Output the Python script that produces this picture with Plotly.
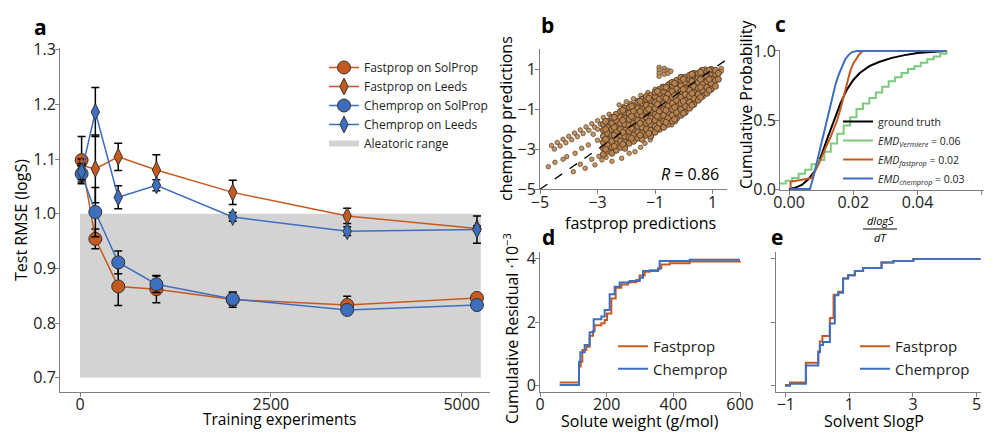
import plotly.graph_objects as go

# ---------------- data ----------------
# panel a
train_n = [20, 200, 500, 1000, 2000, 3500, 5200]
fast_sol = [1.098, 0.954, 0.867, 0.862, 0.843, 0.833, 0.846]
fast_sol_err = [0.043, 0.018, 0.035, 0.025, 0.014, 0.016, 0.005]
fast_leeds = [1.088, 1.082, 1.104, 1.080, 1.039, 0.996, 0.973]
fast_leeds_err = [0.012, 0.062, 0.025, 0.028, 0.022, 0.014, 0.005]
chem_sol = [1.073, 1.003, 0.911, 0.871, 0.844, 0.824, 0.833]
chem_sol_err = [0.015, 0.045, 0.021, 0.015, 0.011, 0.008, 0.005]
chem_leeds = [1.077, 1.186, 1.030, 1.052, 0.994, 0.968, 0.971]
chem_leeds_err = [0.015, 0.045, 0.021, 0.010, 0.008, 0.008, 0.025]
aleatoric_x = [0, 5250]
aleatoric_y = [0.7, 1.0]
a_xticks = [0, 2500, 5000]
a_yticks = [0.7, 0.8, 0.9, 1.0, 1.1, 1.2, 1.3]

# panel b: dense core read column by column (fastprop value -> chemprop values)
b_core_x = [-2.8, -2.65, -2.5, -2.35, -2.2, -2.05, -1.9, -1.75, -1.6, -1.45, -1.3, -1.15,
            -1.0, -0.85, -0.7, -0.55, -0.4, -0.25, -0.1, 0.05, 0.2, 0.35, 0.5, 0.65, 0.8,
            0.95, 1.1, 1.2]
b_core_y = [
    [-3.25, -2.95, -2.65, -2.35, -2.05, -1.75],
    [-3.1, -2.8, -2.5, -2.2, -1.9, -1.6],
    [-3.2, -2.9, -2.6, -2.3, -2.0, -1.7, -1.4],
    [-3.05, -2.75, -2.45, -2.15, -1.85, -1.55, -1.25],
    [-2.9, -2.6, -2.3, -2.0, -1.7, -1.4, -1.1],
    [-2.95, -2.65, -2.35, -2.05, -1.75, -1.45, -1.15, -0.95],
    [-2.7, -2.4, -2.1, -1.8, -1.5, -1.2, -0.9],
    [-2.6, -2.3, -2.0, -1.7, -1.4, -1.1, -0.8],
    [-2.45, -2.15, -1.85, -1.55, -1.25, -0.95, -0.65],
    [-2.5, -2.2, -1.9, -1.6, -1.3, -1.0, -0.7, -0.5],
    [-2.3, -2.0, -1.7, -1.4, -1.1, -0.8, -0.5, -0.35],
    [-2.35, -2.05, -1.75, -1.45, -1.15, -0.85, -0.55, -0.3],
    [-2.15, -1.85, -1.55, -1.25, -0.95, -0.65, -0.35, -0.15],
    [-2.0, -1.7, -1.4, -1.1, -0.8, -0.5, -0.2, 0.0],
    [-1.9, -1.6, -1.3, -1.0, -0.7, -0.4, -0.1, 0.1],
    [-1.75, -1.45, -1.15, -0.85, -0.55, -0.25, 0.05, 0.2],
    [-1.6, -1.3, -1.0, -0.7, -0.4, -0.1, 0.2, 0.35],
    [-1.45, -1.15, -0.85, -0.55, -0.25, 0.05, 0.3, 0.45],
    [-1.3, -1.0, -0.7, -0.4, -0.1, 0.2, 0.45, 0.6],
    [-1.15, -0.85, -0.55, -0.25, 0.05, 0.35, 0.6],
    [-0.95, -0.65, -0.35, -0.05, 0.25, 0.5, 0.7],
    [-0.75, -0.45, -0.15, 0.15, 0.45, 0.7, 0.8],
    [-0.55, -0.25, 0.05, 0.35, 0.6, 0.8],
    [-0.35, -0.05, 0.25, 0.55, 0.8, 0.95],
    [-0.2, 0.1, 0.4, 0.65, 0.9],
    [0.0, 0.3, 0.55, 0.8, 1.0],
    [0.15, 0.45, 0.75, 0.95],
    [0.5, 0.8],
]
# second, offset set of core points (fills the gaps of the first set)
b_core2_x = [-2.72, -2.42, -2.12, -1.82, -1.52, -1.22, -0.92, -0.62, -0.32, -0.02, 0.28, 0.58, 0.88]
b_core2_y = [
    [-3.0, -2.5, -2.0, -1.6],
    [-2.85, -2.3, -1.9, -1.4],
    [-2.75, -2.15, -1.55, -1.05],
    [-2.45, -1.95, -1.35, -0.85],
    [-2.3, -1.7, -1.1, -0.6],
    [-2.2, -1.6, -1.0, -0.45],
    [-1.95, -1.35, -0.75, -0.1],
    [-1.65, -1.05, -0.45, 0.1],
    [-1.5, -0.9, -0.3, 0.3],
    [-1.2, -0.6, 0.0, 0.5],
    [-0.8, -0.2, 0.4, 0.75],
    [-0.4, 0.1, 0.5, 0.85],
    [-0.05, 0.5, 0.95],
]
# streaks and sparse points
b_extra_x = [-4.6, -4.4, -4.2, -4.0, -3.8, -3.6, -3.4, -3.2, -3.0, -2.8, -2.6,
             -4.5, -4.3, -4.1, -3.9, -3.7, -3.5, -3.3, -3.1, -2.9,
             -2.25, -2.0, -1.75, -1.5, -1.25, -1.0, -0.75, -0.5, -0.25, 0.0, 0.25,
             -2.1, -1.85, -1.6, -1.35,
             -0.86, -0.86, -0.86, -0.86, -0.68, -0.68, -0.68, -0.55, -0.55, -0.45, 0.6, 0.75, 1.3, 1.3,
             -4.71, -4.48, -4.07, -3.78, -3.84, -3.43, -3.09, -2.85, -3.32, -3.55, -2.5, -2.16,
             -1.7, -1.35, -1.17, -0.42, -0.3, -2.95, -3.2, -2.7, -1.9, -1.5, -3.6, -4.2,
             -3.0, -3.15, -3.0]
b_extra_y = [-2.81, -2.66, -2.5, -2.35, -2.19, -2.03, -1.88, -1.72, -1.57, -1.41, -1.25,
             -2.99, -2.83, -2.67, -2.52, -2.36, -2.21, -2.05, -1.89, -1.74,
             -0.78, -0.62, -0.47, -0.31, -0.16, 0.0, 0.15, 0.31, 0.47, 0.62, 0.78,
             -0.85, -0.7, -0.55, -0.4,
             1.1, 0.95, 0.8, 0.65, 1.05, 0.9, 0.75, 0.95, 0.8, 0.9, 0.97, 1.02, 1.05, 0.9,
             -3.87, -3.65, -3.37, -3.2, -4.12, -3.95, -3.78, -3.53, -2.78, -2.95, -3.6, -3.45,
             -3.12, -2.7, -2.53, -1.78, -1.62, -3.35, -3.5, -3.4, -3.2, -2.9, -3.75, -3.5,
             -2.55, -2.25, -2.0]
r_value = 0.86
b_ticks = [-5, -3, -1, 1]

# panel c: cumulative distributions of dlogS/dT
gt_x = [0.0, 0.002, 0.004, 0.006, 0.008, 0.010, 0.012, 0.014, 0.016, 0.018, 0.020, 0.022,
        0.025, 0.028, 0.032, 0.036, 0.040, 0.044, 0.049]
gt_y = [0.0, 0.01, 0.03, 0.07, 0.13, 0.24, 0.37, 0.50, 0.62, 0.72, 0.79, 0.84,
        0.89, 0.92, 0.95, 0.97, 0.985, 0.993, 1.0]
verm_x = [-0.003, -0.001, 0.001, 0.003, 0.005, 0.007, 0.009, 0.011, 0.013, 0.015, 0.017,
          0.019, 0.021, 0.023, 0.025, 0.027, 0.029, 0.031, 0.033, 0.035, 0.037, 0.039,
          0.041, 0.043, 0.045, 0.047, 0.049]
verm_y = [0.04, 0.06, 0.08, 0.11, 0.14, 0.18, 0.21, 0.27, 0.33, 0.40, 0.46,
          0.52, 0.58, 0.62, 0.66, 0.70, 0.74, 0.78, 0.81, 0.84, 0.87, 0.89,
          0.915, 0.94, 0.96, 0.98, 1.0]
fpc_x = [0.0005, 0.0005, 0.007, 0.008, 0.009, 0.010, 0.011, 0.012, 0.013, 0.014, 0.015, 0.016,
         0.017, 0.018, 0.019, 0.020, 0.021, 0.022, 0.023, 0.049]
fpc_y = [0.0, 0.053, 0.08, 0.12, 0.17, 0.22, 0.28, 0.33, 0.38, 0.44, 0.50, 0.58,
         0.67, 0.76, 0.85, 0.91, 0.95, 0.98, 1.0, 1.0]
cpc_x = [0.0005, 0.0065, 0.0075, 0.0085, 0.0095, 0.0105, 0.0115, 0.0125, 0.0135, 0.0145,
         0.0155, 0.0165, 0.0175, 0.0185, 0.0195, 0.021, 0.049]
cpc_y = [0.0, 0.0, 0.08, 0.18, 0.28, 0.38, 0.48, 0.58, 0.68, 0.76,
         0.83, 0.89, 0.94, 0.97, 0.99, 1.0, 1.0]
emd_labels = ["ground truth",
              "<i>EMD<sub>Vermiere</sub></i> = 0.06",
              "<i>EMD<sub>fastprop</sub></i> = 0.02",
              "<i>EMD<sub>chemprop</sub></i> = 0.03"]
c_xticks = [0, 0.02, 0.04, 0.06]
c_yticks = [0, 0.5, 1.0]

# panel d: cumulative residual vs solute weight
d_fast_x = [59, 114, 117, 122, 127, 139, 149, 159, 164, 184, 194, 201, 214, 227, 244, 264,
            289, 299, 314, 329, 354, 364, 389, 449, 600]
d_fast_y = [0.10, 0.10, 0.60, 0.75, 1.12, 1.22, 1.57, 1.72, 1.90, 1.96, 2.06, 2.27, 2.74,
            3.08, 3.18, 3.25, 3.32, 3.46, 3.58, 3.63, 3.69, 3.81, 3.85, 3.90, 3.92]
d_chem_x = [59, 114, 117, 121, 134, 149, 161, 184, 194, 209, 224, 239, 269, 299, 309, 354,
            359, 449, 600]
d_chem_y = [0.02, 0.02, 0.75, 1.05, 1.28, 1.68, 2.09, 2.17, 2.38, 2.87, 3.11, 3.24, 3.29,
            3.39, 3.60, 3.66, 3.92, 3.96, 3.96]
d_xticks = [0, 200, 400, 600]
de_yticks = [0, 2, 4]

# panel e: cumulative residual vs solvent SlogP
e_fast_x = [-1.03, -0.87, -0.37, 0.02, 0.07, 0.15, 0.385, 0.50, 0.65, 0.80, 0.96, 1.17,
            1.43, 2.01, 2.38, 3.01, 5.1]
e_fast_y = [0.02, 0.10, 0.72, 1.07, 1.39, 1.56, 2.13, 2.86, 2.95, 3.37, 3.47, 3.60,
            3.70, 3.87, 3.92, 3.98, 4.0]
e_chem_x = [-1.03, -0.87, -0.37, 0.02, 0.07, 0.17, 0.385, 0.54, 0.65, 0.80, 0.96, 1.17,
            1.43, 2.01, 2.38, 3.01, 5.1]
e_chem_y = [0.0, 0.06, 0.63, 1.05, 1.28, 1.37, 1.95, 2.84, 2.92, 3.37, 3.47, 3.60,
            3.70, 3.87, 3.92, 3.98, 4.0]
e_xticks = [-1, 1, 3, 5]

# ---------------- style ----------------
FONT = "Open Sans"
ORANGE = "#C65A1E"
BLUE = "#3D6FBE"
GREEN = "#7CCB7C"
AX = "#7f7f7f"
W, H = 997, 432


def px(x):
    return x / W


def py(y):
    return 1 - y / H


fig = go.Figure()

# ---- panel a ----
fig.add_trace(go.Scatter(
    x=[aleatoric_x[0], aleatoric_x[1], aleatoric_x[1], aleatoric_x[0], aleatoric_x[0]],
    y=[aleatoric_y[0], aleatoric_y[0], aleatoric_y[1], aleatoric_y[1], aleatoric_y[0]],
    fill="toself", mode="none", fillcolor="#D3D3D3", name="Aleatoric range",
    xaxis="x", yaxis="y", legend="legend", legendrank=5))

series_a = [
    ("Fastprop on SolProp", fast_sol, fast_sol_err, ORANGE, "circle", 13),
    ("Fastprop on Leeds", fast_leeds, fast_leeds_err, ORANGE, "diamond-tall", 12),
    ("Chemprop on SolProp", chem_sol, chem_sol_err, BLUE, "circle", 13),
    ("Chemprop on Leeds", chem_leeds, chem_leeds_err, BLUE, "diamond-tall", 12),
]
for i, (name, vals, errs, col, sym, sz) in enumerate(series_a):
    fig.add_trace(go.Scatter(
        x=train_n, y=vals, name=name, mode="lines+markers",
        line=dict(color=col, width=1.5),
        marker=dict(color=col, symbol=sym, size=sz, line=dict(color="#333333", width=1)),
        error_y=dict(type="data", array=errs, color="black", thickness=1.5, width=4),
        xaxis="x", yaxis="y", legend="legend", legendrank=i + 1))

# ---- panel b ----
cx_all, cy_all = [], []
for cols_x, cols_y in ((b_core_x, b_core_y), (b_core2_x, b_core2_y)):
    for cx, ys in zip(cols_x, cols_y):
        for yv in ys:
            cx_all.append(cx)
            cy_all.append(yv)
fig.add_trace(go.Scatter(
    x=b_extra_x, y=b_extra_y, mode="markers", showlegend=False,
    marker=dict(size=4.5, color="rgba(200,150,95,1)",
                line=dict(color="rgba(95,75,55,1)", width=0.8)),
    xaxis="x2", yaxis="y2"))
fig.add_trace(go.Scatter(
    x=cx_all, y=cy_all, mode="markers", showlegend=False,
    marker=dict(size=6, color="rgba(185,130,78,1)",
                line=dict(color="rgba(80,60,40,1)", width=0.9)),
    xaxis="x2", yaxis="y2"))
fig.add_trace(go.Scatter(
    x=[-5, 1.5], y=[-5, 1.5], mode="lines", line=dict(color="black", width=1.3, dash="dash"),
    showlegend=False, xaxis="x2", yaxis="y2"))

# ---- panel c ----
fig.add_trace(go.Scatter(x=gt_x, y=gt_y, mode="lines", line=dict(color="black", width=2),
                         name=emd_labels[0], xaxis="x3", yaxis="y3", legend="legend2"))
fig.add_trace(go.Scatter(x=verm_x, y=verm_y, mode="lines", line=dict(color=GREEN, width=2, shape="hv"),
                         name=emd_labels[1], xaxis="x3", yaxis="y3", legend="legend2"))
fig.add_trace(go.Scatter(x=fpc_x, y=fpc_y, mode="lines", line=dict(color=ORANGE, width=2),
                         name=emd_labels[2], xaxis="x3", yaxis="y3", legend="legend2"))
fig.add_trace(go.Scatter(x=cpc_x, y=cpc_y, mode="lines", line=dict(color=BLUE, width=2),
                         name=emd_labels[3], xaxis="x3", yaxis="y3", legend="legend2"))

# ---- panel d ----
fig.add_trace(go.Scatter(x=d_fast_x, y=d_fast_y, mode="lines", line=dict(color=ORANGE, width=2, shape="hv"),
                         name="Fastprop", xaxis="x4", yaxis="y4", legend="legend3"))
fig.add_trace(go.Scatter(x=d_chem_x, y=d_chem_y, mode="lines", line=dict(color=BLUE, width=2, shape="hv"),
                         name="Chemprop", xaxis="x4", yaxis="y4", legend="legend3"))
# ---- panel e ----
fig.add_trace(go.Scatter(x=e_fast_x, y=e_fast_y, mode="lines", line=dict(color=ORANGE, width=2, shape="hv"),
                         name="Fastprop", xaxis="x5", yaxis="y5", legend="legend4"))
fig.add_trace(go.Scatter(x=e_chem_x, y=e_chem_y, mode="lines", line=dict(color=BLUE, width=2, shape="hv"),
                         name="Chemprop", xaxis="x5", yaxis="y5", legend="legend4"))


def axis(domain, rng, ticks, anchor, fmt=None, labels=True, standoff=0):
    d = dict(domain=domain, range=rng, tickmode="array", tickvals=ticks, anchor=anchor,
             showline=True, linecolor=AX, linewidth=1, ticks="", showgrid=False,
             zeroline=False, showticklabels=labels, ticklabelstandoff=standoff,
             tickfont=dict(family=FONT, size=16, color="#222222"),
             minor=dict(tickmode="array", tickvals=ticks, ticks="outside", ticklen=4,
                        tickcolor=AX, tickwidth=1, showgrid=False))
    if fmt:
        d["tickformat"] = fmt
    return d


XS = -2  # pull x tick labels a little closer to the axis line
fig.update_layout(
    width=W, height=H, margin=dict(l=0, r=0, t=0, b=0, autoexpand=False),
    paper_bgcolor="white", plot_bgcolor="white",
    font=dict(family=FONT, color="black"),
    xaxis=axis([px(60), px(490)], [-263, 5371], a_xticks, "y", standoff=XS),
    yaxis=axis([py(392), py(48)], [0.674, 1.303], a_yticks, "x", ".1f"),
    xaxis2=axis([px(540), px(727)], [-5, 1.5], b_ticks, "y2", standoff=XS),
    yaxis2=axis([py(189.3), py(49.3)], [-5, 2], b_ticks, "x2"),
    xaxis3=axis([px(780), px(983.5)], [-0.0028, 0.0605], c_xticks, "y3", ".2f", standoff=XS),
    yaxis3=axis([py(190), py(50)], [-0.007, 1.007], c_yticks, "x3", ".1f"),
    xaxis4=axis([px(540), px(741)], [0, 603], d_xticks, "y4", standoff=XS),
    yaxis4=axis([py(391.7), py(251.7)], [-0.19, 4.21], de_yticks, "x4"),
    xaxis5=axis([px(776), px(981)], [-1.31, 5.14], e_xticks, "y5", standoff=XS),
    yaxis5=axis([py(391.7), py(251.7)], [-0.19, 4.21], de_yticks, "x5", labels=False),
    legend=dict(x=px(324), y=py(53), xanchor="left", yanchor="top", bgcolor="rgba(0,0,0,0)",
                font=dict(family=FONT, size=12, color="#222222"), tracegroupgap=0,
                traceorder="normal"),
    legend2=dict(x=px(838), y=py(107), xanchor="left", yanchor="top", bgcolor="rgba(0,0,0,0)",
                 font=dict(family=FONT, size=10.5, color="#222222"), tracegroupgap=0),
    legend3=dict(x=px(613), y=py(330), xanchor="left", yanchor="top", bgcolor="rgba(0,0,0,0)",
                 font=dict(family=FONT, size=15, color="#222222"), tracegroupgap=0),
    legend4=dict(x=px(855), y=py(330), xanchor="left", yanchor="top", bgcolor="rgba(0,0,0,0)",
                 font=dict(family=FONT, size=15, color="#222222"), tracegroupgap=0),
)

ann = []


def add_text(x, y, text, size=16, angle=0, **kw):
    ann.append(dict(x=px(x), y=py(y), xref="paper", yref="paper", text=text, showarrow=False,
                    textangle=angle, font=dict(family=FONT, size=size, color="black"),
                    xanchor="center", yanchor="middle", **kw))


# panel labels
add_text(40, 27, "<b>a</b>", 21)
add_text(547, 25, "<b>b</b>", 21)
add_text(780, 24, "<b>c</b>", 21)
add_text(548, 237, "<b>d</b>", 21)
add_text(777, 237, "<b>e</b>", 21)
# axis titles
add_text(21, 220, "Test RMSE (logS)", 16, -90)
add_text(280, 419, "Training experiments", 15.5)
add_text(506, 119, "chemprop predictions", 16, -90)
add_text(640, 223, "fastprop predictions", 16)
add_text(746, 105, "Cumulative Probability", 16, -90)
add_text(880, 220, "<i>dlogS</i>", 11)
add_text(880, 237, "<i>dT</i>", 11)
add_text(511, 328, "Cumulative Residual ·10<sup>−3</sup>", 16, -90)
add_text(640, 421, "Solute weight (g/mol)", 16)
add_text(874, 421, "Solvent SlogP", 16)
add_text(690, 174, "<i>R</i> = %.2f" % r_value, 16)

fig.update_layout(annotations=ann,
                  shapes=[dict(type="line", xref="paper", yref="paper", x0=px(863), x1=px(897),
                               y0=py(229), y1=py(229), line=dict(color="black", width=1))])

fig.write_html("out.html", config={"displayModeBar": False},
               post_script="document.body.style.margin='0';document.body.style.padding='0';"
                           "document.documentElement.style.overflow='hidden';")
